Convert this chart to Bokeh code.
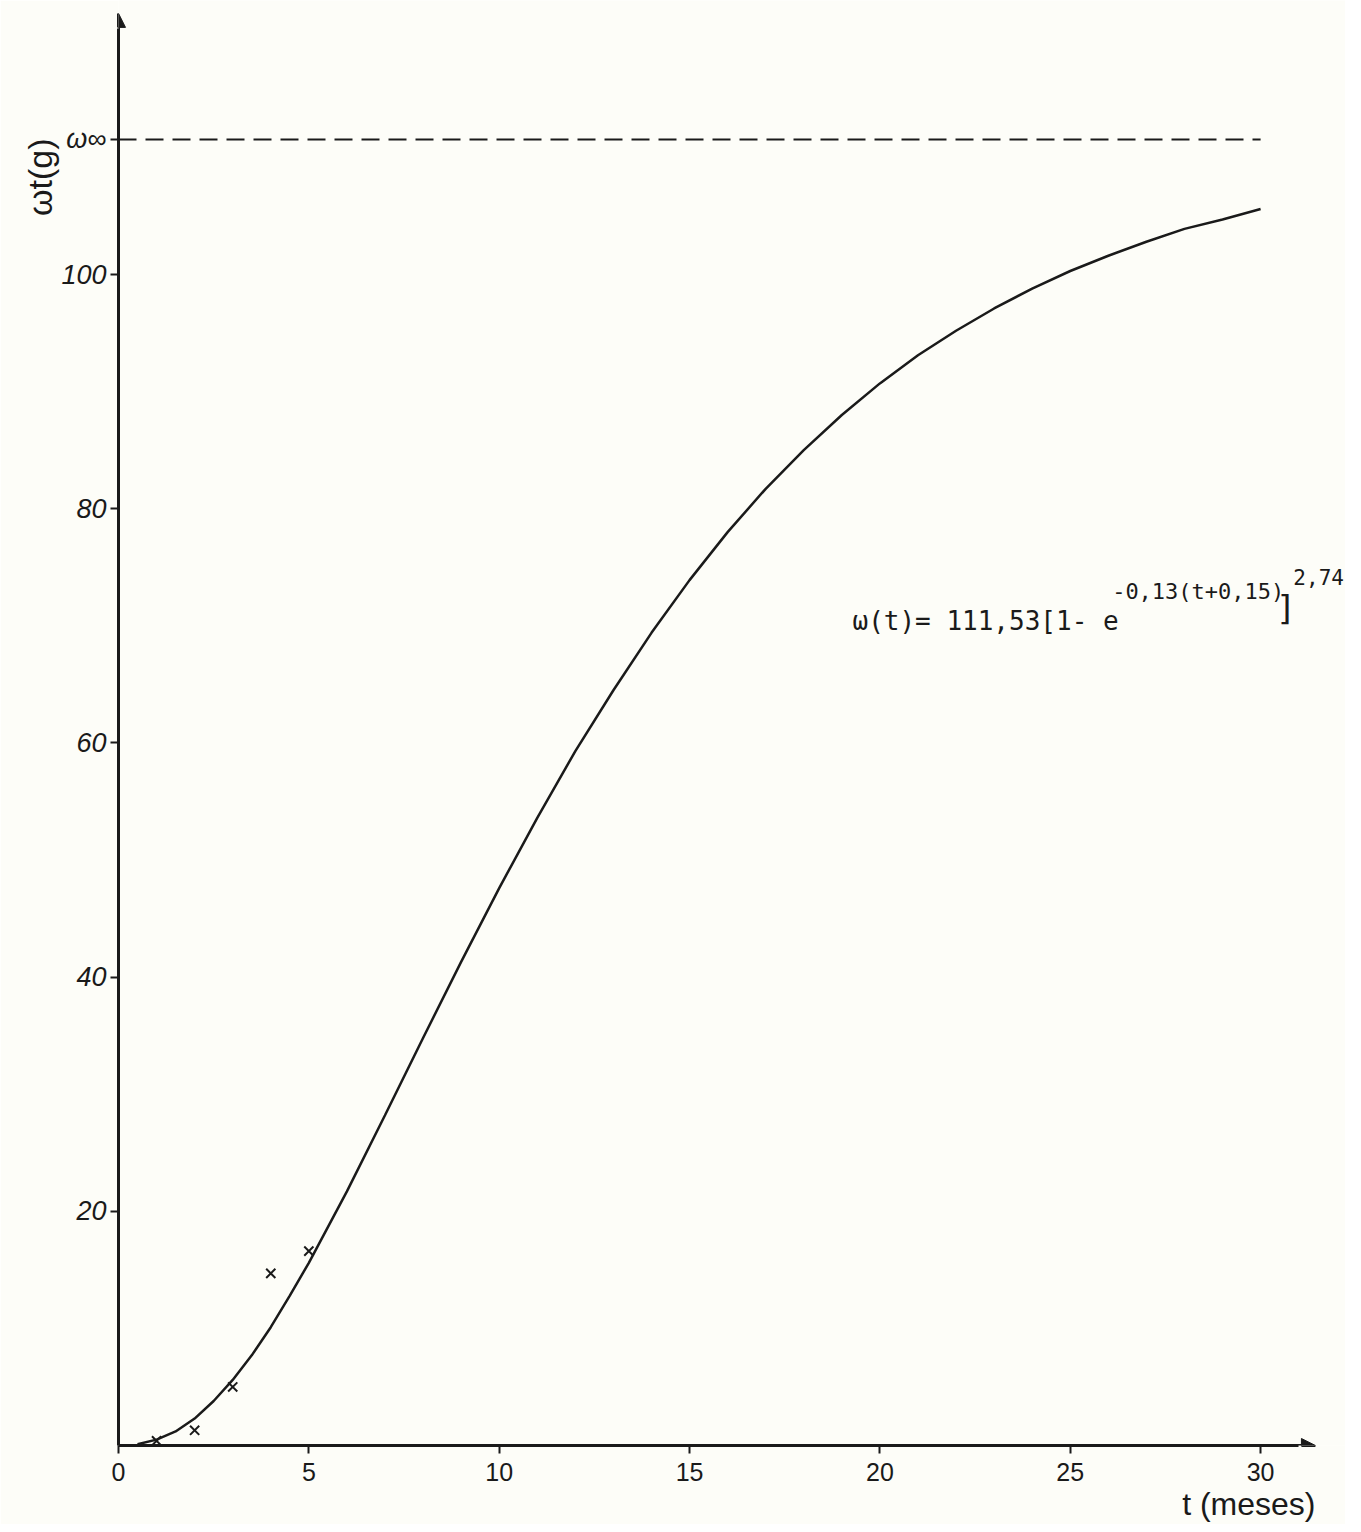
import math
from bokeh.plotting import figure
from bokeh.models import Range1d, FixedTicker, Label, Arrow, NormalHead, Title
from bokeh.embed import file_html
from bokeh.resources import INLINE

# ---- data ----
curve_t = [0.5, 1, 1.5, 2, 2.5, 3, 3.5, 4, 4.5, 5, 6, 7, 8, 9, 10, 11, 12, 13, 14, 15,
           16, 17, 18, 19, 20, 21, 22, 23, 24, 25, 26, 27, 28, 29, 30]
curve_w = [0.1, 0.5, 1.2, 2.3, 3.8, 5.6, 7.7, 10.1, 12.8, 15.6, 21.7, 28.2, 34.8, 41.3, 47.6,
           53.6, 59.3, 64.5, 69.4, 73.9, 78.0, 81.7, 85.0, 88.0, 90.7, 93.1, 95.2, 97.1,
           98.8, 100.3, 101.6, 102.8, 103.9, 104.7, 105.6]
obs_t = [1, 2, 3, 4, 5]
obs_w = [0.4, 1.3, 5.0, 14.7, 16.6]
w_inf = 111.53
x_ticks = [0, 5, 10, 15, 20, 25, 30]
y_ticks = [20, 40, 60, 80, 100]
y_label = "ωt(g)"
x_label = "t (meses)"
w_inf_label = "ω∞"

BG = "#fdfdf8"
INK = "#1a1a1a"

p = figure(width=1345, height=1524,
           x_range=Range1d(0, 32.23), y_range=Range1d(0, 123.4),
           min_border_left=118, min_border_right=0, min_border_top=0, min_border_bottom=79,
           output_backend="svg", toolbar_location=None)
p.background_fill_color = BG
p.border_fill_color = BG
p.outline_line_color = None
p.grid.visible = False

# axes
p.xaxis.ticker = FixedTicker(ticks=x_ticks)
p.yaxis.ticker = FixedTicker(ticks=y_ticks + [w_inf])
p.yaxis.major_label_overrides = {w_inf: w_inf_label}
p.xaxis.bounds = (0, 31.0)
p.yaxis.bounds = (0, 121.0)
for ax in (p.xaxis, p.yaxis):
    ax.axis_line_width = 3
    ax.axis_line_color = INK
    ax.major_tick_line_color = INK
    ax.major_tick_line_width = 2
    ax.major_tick_in = 0
    ax.major_tick_out = 8
    ax.minor_tick_line_color = None
    ax.major_label_text_color = INK
    ax.major_label_text_font = "Liberation Sans"
p.xaxis.major_label_text_font_size = "25px"
p.xaxis.major_label_standoff = 9
p.yaxis.major_label_text_font_size = "27px"
p.yaxis.major_label_text_font_style = "italic"
p.yaxis.major_label_standoff = 4

# axis titles placed like the hand-written ones
p.add_layout(Title(text=y_label, align="right", offset=138, standoff=0,
                   text_font="Liberation Sans", text_font_size="34px",
                   text_font_style="normal", text_color=INK), "left")
p.add_layout(Title(text=x_label, align="right", offset=30, standoff=0,
                   text_font="Liberation Sans", text_font_size="32px",
                   text_font_style="normal", text_color=INK), "below")

# arrow heads on axes
p.add_layout(Arrow(end=NormalHead(size=14, fill_color=INK, line_color=INK),
                   x_start=0, y_start=110, x_end=0, y_end=122.3,
                   line_color=INK, line_width=3))
p.add_layout(Arrow(end=NormalHead(size=14, fill_color=INK, line_color=INK),
                   x_start=29, y_start=0, x_end=31.44, y_end=0,
                   line_color=INK, line_width=3))

# asymptote
p.line([curve_t[0] - 0.5, curve_t[-1]], [w_inf, w_inf], line_color=INK,
       line_width=2, line_dash="18 9")

# fitted curve and observations
p.line(curve_t, curve_w, line_color=INK, line_width=2.5)
p.scatter(obs_t, obs_w, marker="x", size=13, line_color=INK, line_width=2)

# formula
MONO = "DejaVu Sans Mono"
p.add_layout(Label(x=19.28, y=70.37, text="ω(t)= 111,53[1- e", text_align="left",
                   text_baseline="alphabetic", text_font=MONO,
                   text_font_size="26px", text_color=INK))
p.add_layout(Label(x=26.1, y=72.9, text="-0,13(t+0,15)", text_align="left",
                   text_baseline="alphabetic", text_font=MONO,
                   text_font_size="22px", text_color=INK))
p.add_layout(Label(x=30.40, y=71.5, text="]", text_align="left",
                   text_baseline="alphabetic", text_font=MONO,
                   text_font_size="34px", text_color=INK))
p.add_layout(Label(x=30.86, y=74.2, text="2,74", text_align="left",
                   text_baseline="alphabetic", text_font=MONO,
                   text_font_size="21px", text_color=INK))

open("out.html", "w").write(file_html(p, INLINE))
